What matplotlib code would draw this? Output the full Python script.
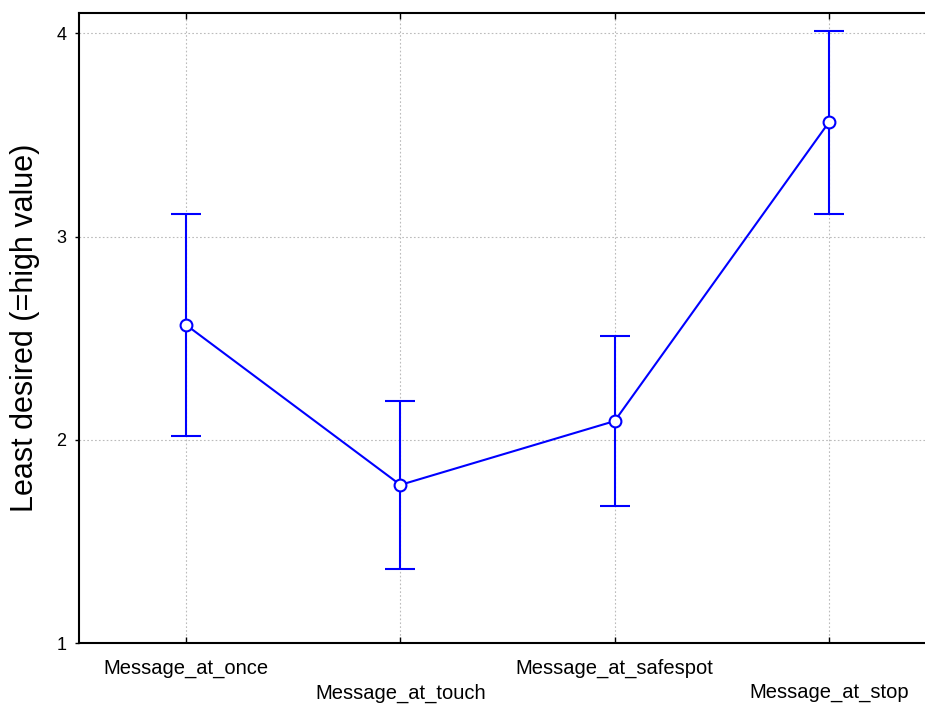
import numpy as np
import matplotlib
matplotlib.use("Agg")
import matplotlib.pyplot as plt

# Mean ratings per message condition with 95% CI half-widths
conditions = ["Message_at_once", "Message_at_touch", "Message_at_safespot", "Message_at_stop"]
means = [2.565, 1.778, 2.092, 3.562]
ci_half = [0.548, 0.413, 0.419, 0.451]

plt.rcParams['font.family'] = ['Liberation Sans', 'DejaVu Sans']

fig = plt.figure(figsize=(9.25, 7.06), dpi=100)
ax = fig.add_axes([79 / 925, 1 - 643 / 706, 857 / 925, (643 - 13) / 706])

x = np.arange(len(conditions))
ax.errorbar(x, means, yerr=ci_half, color='#0000ff', lw=1.5, elinewidth=1.5,
            capsize=11, capthick=1.5, marker='o', markersize=8.5,
            markerfacecolor='white', markeredgecolor='#0000ff', markeredgewidth=1.5,
            zorder=3)

ax.set_xlim(-0.5, 3.5)
ax.set_ylim(1, 4.1)
ax.set_yticks([1, 2, 3, 4])
ax.set_xticks(x)
ax.set_xticklabels([])

# staggered category labels, two rows under the axis
for i, name in enumerate(conditions):
    offset = -18 if i % 2 == 0 else -36
    ax.annotate(name, (i, 1), xytext=(0, offset), textcoords='offset points',
                xycoords='data', ha='center', va='center', fontsize=14.5,
                annotation_clip=False)

ax.grid(True, color='#bbbbbb', linestyle=(0, (1.5, 2)), linewidth=0.8)
ax.set_axisbelow(True)
ax.spines['right'].set_visible(False)
for s in ['left', 'bottom', 'top']:
    ax.spines[s].set_linewidth(1.5)

ax.tick_params(axis='x', direction='in', length=4, width=1, top=True)
ax.tick_params(axis='y', direction='out', length=3, width=1, labelsize=13, pad=6)
ax.set_ylabel("Least desired (=high value)", fontsize=22, labelpad=12)

fig.savefig("out.png", dpi=100)
